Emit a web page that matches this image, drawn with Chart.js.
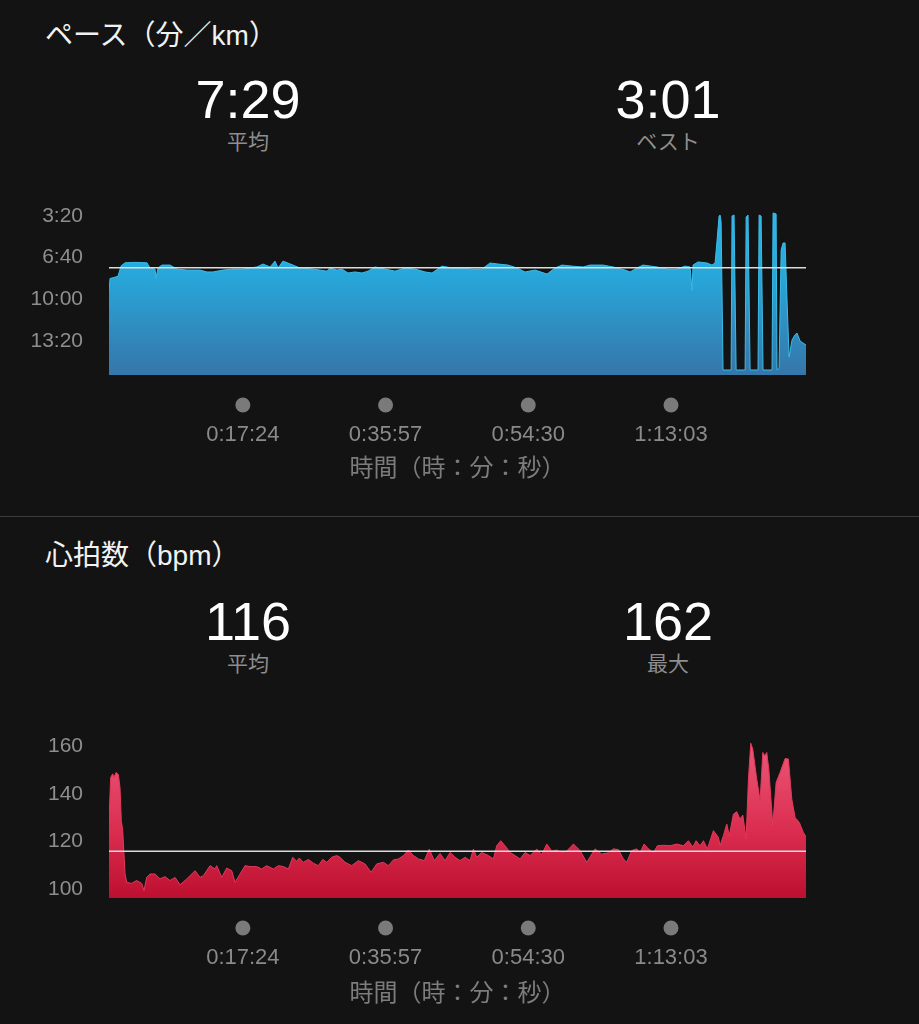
<!DOCTYPE html>
<html lang="ja">
<head>
<meta charset="utf-8">
<script src="https://cdn.jsdelivr.net/npm/chart.js@4"></script>
<style>
  html, body { margin: 0; padding: 0; background: #131313; }
  body { position: relative; width: 919px; height: 1024px; overflow: hidden;
         font-family: "Liberation Sans", "Noto Sans CJK JP", sans-serif; }
  .title { position: absolute; left: 45px; color: #f2f2f2; font-size: 28px; line-height: 1; white-space: nowrap; }
  .stat { position: absolute; width: 300px; text-align: center; line-height: 1; }
  .stat .num { color: #ffffff; font-size: 54px; }
  .stat .lbl { position: absolute; left: 0; width: 300px; color: #8e8e8e; font-size: 21px;
               font-family: "Noto Sans CJK JP", sans-serif; }
  .divider { position: absolute; left: 0; top: 516px; width: 919px; height: 1px; background: #3c3c3c; }
  canvas { position: absolute; left: 0; }
</style>
</head>
<body>
<div class="title" style="top:22px">ペース（分／km）</div>
<div class="stat" style="left:98px; top:72px"><div class="num" id="pace-avg"></div><div class="lbl" style="top:58px">平均</div></div>
<div class="stat" style="left:518px; top:72px"><div class="num" id="pace-best"></div><div class="lbl" style="top:58px">ベスト</div></div>
<canvas id="pace-chart" width="919" height="300" style="top:190px"></canvas>

<div class="divider"></div>

<div class="title" style="top:542px">心拍数（bpm）</div>
<div class="stat" style="left:98px; top:594px"><div class="num" id="hr-avg"></div><div class="lbl" style="top:58px">平均</div></div>
<div class="stat" style="left:518px; top:594px"><div class="num" id="hr-max"></div><div class="lbl" style="top:58px">最大</div></div>
<canvas id="hr-chart" width="919" height="290" style="top:725px"></canvas>

<script>
// elapsed seconds / pace in seconds per km
const paceTimes = [0, 8, 23, 70, 94, 125, 203, 296, 320, 359, 367, 382, 413, 476, 530, 608, 710, 764, 811, 889,
  967, 1045, 1154, 1201, 1256, 1295, 1318, 1357, 1435, 1490, 1591, 1700, 1724, 1778, 1817, 1864, 1919, 1973, 2020, 2075,
  2153, 2231, 2309, 2387, 2465, 2519, 2597, 2675, 2753, 2831, 2909, 2972, 3034, 3112, 3182, 3245, 3323, 3416, 3479, 3533,
  3611, 3697, 3752, 3853, 3931, 4025, 4064, 4118, 4165, 4274, 4352, 4430, 4493, 4532, 4547, 4555, 4594, 4664, 4703, 4727,
  4742, 4758, 4766, 4774, 4789, 4852, 4859, 4875, 4891, 4961, 4969, 4984, 5000, 5062, 5070, 5086, 5101, 5171, 5179, 5203,
  5210, 5226, 5242, 5257, 5273, 5288, 5304, 5327, 5351, 5366, 5390, 5413, 5436];
const paceValues = [560, 500, 498, 490, 440, 425, 423, 425, 450, 455, 498, 450, 436, 436, 455, 460, 460, 469, 469, 460,
  455, 455, 445, 431, 445, 417, 450, 417, 436, 450, 455, 465, 450, 460, 455, 474, 469, 474, 465, 445,
  455, 465, 450, 455, 469, 474, 441, 450, 450, 455, 455, 426, 431, 436, 450, 469, 460, 479, 450, 436,
  441, 445, 436, 436, 445, 460, 469, 450, 436, 445, 455, 455, 441, 445, 556, 436, 421, 426, 436, 426,
  320, 201, 196, 230, 939, 939, 201, 196, 939, 939, 206, 196, 939, 939, 196, 201, 939, 939, 186, 191,
  939, 930, 364, 330, 330, 604, 877, 795, 770, 762, 800, 810, 819];
const paceTicks = [200, 400, 600, 800];
const paceRange = [124, 963];
const paceAverage = 449;
const paceBest = 181;

// elapsed seconds / heart rate in bpm
const hrTimes = [0, 13, 29, 39, 55, 73, 86, 96, 107, 125, 138, 177, 216, 255, 273, 294, 320, 359, 398, 437,
  476, 515, 554, 606, 671, 710, 736, 788, 827, 840, 879, 918, 957, 983, 1022, 1061, 1100, 1152, 1191, 1230,
  1282, 1321, 1360, 1399, 1433, 1464, 1484, 1516, 1555, 1594, 1633, 1667, 1698, 1737, 1776, 1802, 1841, 1893, 1945, 1997,
  2044, 2088, 2140, 2179, 2218, 2257, 2296, 2335, 2374, 2413, 2459, 2498, 2537, 2582, 2621, 2660, 2699, 2738, 2777, 2816,
  2842, 2868, 2907, 2959, 2998, 3024, 3055, 3089, 3128, 3167, 3206, 3245, 3284, 3336, 3375, 3414, 3453, 3492, 3531, 3570,
  3622, 3674, 3726, 3791, 3843, 3895, 3934, 3973, 4012, 4038, 4077, 4116, 4142, 4173, 4207, 4246, 4277, 4324, 4376, 4428,
  4480, 4519, 4553, 4579, 4610, 4636, 4667, 4714, 4753, 4766, 4792, 4818, 4838, 4870, 4896, 4922, 4943, 4969, 4987, 5005,
  5021, 5052, 5078, 5099, 5114, 5130, 5146, 5177, 5203, 5234, 5273, 5299, 5325, 5351, 5384, 5415, 5436];
const hrValues = [128.8, 146.8, 148.3, 146.8, 148.9, 148, 142.6, 128.8, 124.6, 106.7, 103, 102.6, 103.8, 102.6, 99.6, 105.1, 106.5, 106.5, 104.5, 105.4,
  103.8, 105.1, 102, 104.4, 107.9, 105.1, 105.8, 110, 108.6, 110, 105.1, 109, 107.9, 103, 106.5, 110, 109.6, 109.6, 108.6, 110,
  108.6, 110, 109.6, 108.6, 113.5, 111.8, 113.2, 111.4, 112.6, 111, 110, 112.6, 111.4, 113.5, 114.2, 113.5, 111.4, 110, 112.1, 110.7,
  107.2, 110.7, 111.4, 110, 112.4, 112.8, 114.2, 116.5, 114.2, 112.8, 112.1, 116.9, 112.1, 115.1, 112.1, 115.5, 113.5, 112.1, 113.5, 112.1,
  116.9, 113.5, 115.5, 114.2, 112.8, 118.3, 120.4, 118.3, 115.5, 114.2, 112.8, 115.5, 114.2, 116.9, 114.6, 119, 116.1, 116.5, 115.5, 116.1,
  119, 116.3, 111.4, 117, 114.8, 115.4, 117, 116.7, 112.8, 111.4, 116.3, 117, 115.4, 119, 117, 115.4, 118.3, 118.5, 118.3, 119,
  118.3, 120.4, 117.7, 120.4, 118.3, 120.4, 117, 124.6, 121.8, 118.3, 122.5, 127.4, 122.5, 131.5, 132.5, 129.4, 131.1, 121.1, 146.1, 161.1,
  158.6, 146.1, 137.1, 157.2, 155.8, 157.2, 150.3, 126.7, 144.7, 148.9, 154.7, 154.5, 137.8, 130.1, 128, 123.9, 122];
const hrTicks = [100, 120, 140, 160];
const hrRange = [96.5, 164.5];
const hrAverage = 116;
const hrMax = 162;

const timeTicks = [1044, 2157, 3270, 4383];
const timeRange = [0, 5436];

const NUM_FONT = '"Liberation Sans", "Noto Sans CJK JP", sans-serif';
const JP_FONT = '"Noto Sans CJK JP", sans-serif';

function formatPace(sec) {
  const m = Math.floor(sec / 60);
  const s = Math.round(sec % 60);
  return m + ':' + String(s).padStart(2, '0');
}

function formatClock(sec) {
  const h = Math.floor(sec / 3600);
  const m = Math.floor((sec % 3600) / 60);
  const s = sec % 60;
  return h + ':' + String(m).padStart(2, '0') + ':' + String(s).padStart(2, '0');
}

// average line across the plot + grey dots above the time labels
const overlayPlugin = {
  id: 'overlay',
  afterDatasetsDraw(chart, args, opts) {
    const { ctx, chartArea } = chart;
    const y = chart.scales.y.getPixelForValue(opts.average);
    ctx.save();
    ctx.strokeStyle = '#dcdcdc';
    ctx.lineWidth = 1.5;
    ctx.beginPath();
    ctx.moveTo(chartArea.left, y);
    ctx.lineTo(chartArea.right, y);
    ctx.stroke();

    ctx.fillStyle = '#7a7a7a';
    chart.scales.x.ticks.forEach((t) => {
      const x = chart.scales.x.getPixelForValue(t.value);
      ctx.beginPath();
      ctx.arc(x, chartArea.bottom + 30, 7.5, 0, Math.PI * 2);
      ctx.fill();
    });
    ctx.restore();
  },
};

function areaGradient(stops) {
  return (context) => {
    const { chart } = context;
    const area = chart.chartArea;
    if (!area) return stops[0][1];
    const g = chart.ctx.createLinearGradient(0, area.top, 0, area.bottom);
    stops.forEach(([p, c]) => g.addColorStop(p, c));
    return g;
  };
}

function renderChart(canvas, cfg) {
  return new Chart(canvas, {
    type: 'line',
    data: {
      datasets: [
        {
          data: cfg.times.map((t, i) => ({ x: t, y: cfg.values[i] })),
          borderColor: cfg.lineColor,
          borderWidth: 1,
          pointRadius: 0,
          tension: 0,
          fill: { value: cfg.fillTo },
          backgroundColor: areaGradient(cfg.stops),
        },
      ],
    },
    plugins: [overlayPlugin],
    options: {
      responsive: false,
      animation: false,
      devicePixelRatio: 1,
      layout: { padding: { top: 10, right: 113, left: 0, bottom: 0 } },
      plugins: {
        legend: { display: false },
        tooltip: { enabled: false },
        overlay: { average: cfg.average },
      },
      scales: {
        x: {
          type: 'linear',
          min: timeRange[0],
          max: timeRange[1],
          grid: { display: false, drawTicks: false },
          border: { display: false },
          afterBuildTicks: (s) => { s.ticks = timeTicks.map((v) => ({ value: v })); },
          afterFit: (s) => { s.height = cfg.xHeight; },
          ticks: {
            padding: 47,
            color: '#8a8a8a',
            font: { family: NUM_FONT, size: 22 },
            maxRotation: 0,
            callback: (v) => formatClock(v),
          },
          title: {
            display: true,
            text: '時間（時：分：秒）',
            color: '#7c7c7c',
            font: { family: JP_FONT, size: 24 },
            padding: { top: 0, bottom: 9 },
          },
        },
        y: {
          type: 'linear',
          min: cfg.range[0],
          max: cfg.range[1],
          reverse: cfg.reverse,
          grid: { display: false, drawTicks: false },
          border: { display: false },
          afterBuildTicks: (s) => { s.ticks = cfg.ticks.map((v) => ({ value: v })); },
          afterFit: (s) => {
            s.width = 109;
            s.paddingTop = 0;
            s.paddingBottom = 0;
          },
          ticks: {
            padding: 26,
            color: '#8e8e8e',
            font: { family: NUM_FONT, size: 21 },
            callback: cfg.tickFormat,
          },
        },
      },
    },
  });
}

function init() {
  document.getElementById('pace-avg').textContent = formatPace(paceAverage);
  document.getElementById('pace-best').textContent = formatPace(paceBest);
  document.getElementById('hr-avg').textContent = hrAverage;
  document.getElementById('hr-max').textContent = hrMax;

  renderChart(document.getElementById('pace-chart'), {
    times: paceTimes,
    values: paceValues,
    range: paceRange,
    reverse: true,
    fillTo: paceRange[1],
    ticks: paceTicks,
    tickFormat: (v) => formatPace(v),
    average: paceAverage,
    xHeight: 115,
    lineColor: '#3cbbe8',
    stops: [[0, '#2fb8ea'], [0.4, '#27a9dc'], [1, '#3676a9']],
  });

  renderChart(document.getElementById('hr-chart'), {
    times: hrTimes,
    values: hrValues,
    range: hrRange,
    reverse: false,
    fillTo: hrRange[0],
    ticks: hrTicks,
    tickFormat: (v) => v,
    average: hrAverage,
    xHeight: 117,
    lineColor: '#e23a5c',
    stops: [[0, '#ee5c7c'], [0.6, '#da2c4e'], [1, '#bd0f2f']],
  });
}

document.addEventListener('DOMContentLoaded', init);
</script>
</body>
</html>
